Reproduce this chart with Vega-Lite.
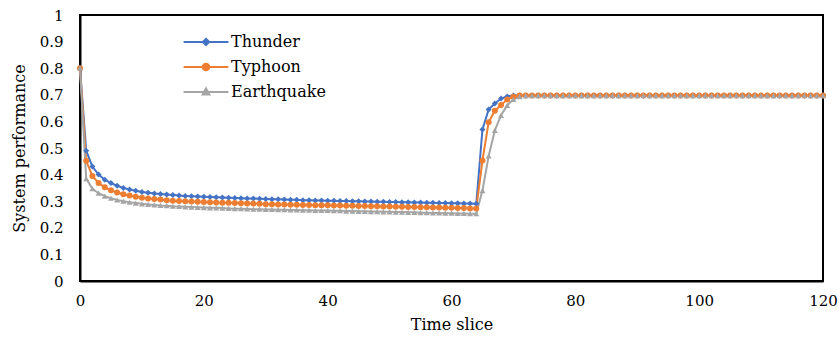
{
  "$schema": "https://vega.github.io/schema/vega-lite/v6.json",
  "autosize": "none",
  "width": 743,
  "height": 266,
  "padding": {"left": 80, "top": 15, "right": 16, "bottom": 68},
  "background": "white",
  "config": {
    "view": {"stroke": "black", "strokeWidth": 2},
    "font": "DejaVu Serif",
    "axis": {"labelFont": "DejaVu Serif", "titleFont": "DejaVu Serif", "labelColor": "black", "titleColor": "black", "labelFontSize": 15, "titleFontSize": 16, "titleFontWeight": "normal", "domainColor": "black", "domainWidth": 2, "tickColor": "black", "grid": false, "labelFlush": false}
  },
  "data": {"values": [
    {"t":0,"Thunder":0.8,"Typhoon":0.8,"Earthquake":0.8},
    {"t":1,"Thunder":0.49,"Typhoon":0.452,"Earthquake":0.385},
    {"t":2,"Thunder":0.43,"Typhoon":0.395,"Earthquake":0.347},
    {"t":3,"Thunder":0.4,"Typhoon":0.368,"Earthquake":0.33},
    {"t":4,"Thunder":0.381,"Typhoon":0.352,"Earthquake":0.319},
    {"t":5,"Thunder":0.368,"Typhoon":0.341,"Earthquake":0.311},
    {"t":6,"Thunder":0.358,"Typhoon":0.333,"Earthquake":0.305},
    {"t":7,"Thunder":0.35,"Typhoon":0.326,"Earthquake":0.3},
    {"t":8,"Thunder":0.344,"Typhoon":0.321,"Earthquake":0.296},
    {"t":9,"Thunder":0.339,"Typhoon":0.317,"Earthquake":0.293},
    {"t":10,"Thunder":0.335,"Typhoon":0.313,"Earthquake":0.29},
    {"t":11,"Thunder":0.332,"Typhoon":0.31,"Earthquake":0.288},
    {"t":12,"Thunder":0.329,"Typhoon":0.308,"Earthquake":0.286},
    {"t":13,"Thunder":0.327,"Typhoon":0.306,"Earthquake":0.284},
    {"t":14,"Thunder":0.325,"Typhoon":0.304,"Earthquake":0.283},
    {"t":15,"Thunder":0.323,"Typhoon":0.302,"Earthquake":0.281},
    {"t":16,"Thunder":0.321,"Typhoon":0.301,"Earthquake":0.28},
    {"t":17,"Thunder":0.32,"Typhoon":0.3,"Earthquake":0.279},
    {"t":18,"Thunder":0.319,"Typhoon":0.299,"Earthquake":0.278},
    {"t":19,"Thunder":0.318,"Typhoon":0.298,"Earthquake":0.277},
    {"t":20,"Thunder":0.317,"Typhoon":0.297,"Earthquake":0.276},
    {"t":21,"Thunder":0.316,"Typhoon":0.296,"Earthquake":0.275},
    {"t":22,"Thunder":0.315,"Typhoon":0.295,"Earthquake":0.275},
    {"t":23,"Thunder":0.314,"Typhoon":0.294,"Earthquake":0.274},
    {"t":24,"Thunder":0.313,"Typhoon":0.294,"Earthquake":0.273},
    {"t":25,"Thunder":0.312,"Typhoon":0.293,"Earthquake":0.272},
    {"t":26,"Thunder":0.311,"Typhoon":0.292,"Earthquake":0.272},
    {"t":27,"Thunder":0.31,"Typhoon":0.291,"Earthquake":0.271},
    {"t":28,"Thunder":0.31,"Typhoon":0.291,"Earthquake":0.27},
    {"t":29,"Thunder":0.309,"Typhoon":0.29,"Earthquake":0.27},
    {"t":30,"Thunder":0.308,"Typhoon":0.289,"Earthquake":0.269},
    {"t":31,"Thunder":0.307,"Typhoon":0.289,"Earthquake":0.269},
    {"t":32,"Thunder":0.307,"Typhoon":0.288,"Earthquake":0.268},
    {"t":33,"Thunder":0.306,"Typhoon":0.288,"Earthquake":0.268},
    {"t":34,"Thunder":0.305,"Typhoon":0.287,"Earthquake":0.267},
    {"t":35,"Thunder":0.305,"Typhoon":0.287,"Earthquake":0.267},
    {"t":36,"Thunder":0.304,"Typhoon":0.286,"Earthquake":0.266},
    {"t":37,"Thunder":0.304,"Typhoon":0.286,"Earthquake":0.266},
    {"t":38,"Thunder":0.303,"Typhoon":0.285,"Earthquake":0.265},
    {"t":39,"Thunder":0.303,"Typhoon":0.285,"Earthquake":0.265},
    {"t":40,"Thunder":0.302,"Typhoon":0.285,"Earthquake":0.265},
    {"t":41,"Thunder":0.302,"Typhoon":0.284,"Earthquake":0.264},
    {"t":42,"Thunder":0.301,"Typhoon":0.284,"Earthquake":0.264},
    {"t":43,"Thunder":0.301,"Typhoon":0.283,"Earthquake":0.263},
    {"t":44,"Thunder":0.3,"Typhoon":0.283,"Earthquake":0.263},
    {"t":45,"Thunder":0.3,"Typhoon":0.282,"Earthquake":0.262},
    {"t":46,"Thunder":0.299,"Typhoon":0.282,"Earthquake":0.262},
    {"t":47,"Thunder":0.299,"Typhoon":0.281,"Earthquake":0.261},
    {"t":48,"Thunder":0.298,"Typhoon":0.281,"Earthquake":0.261},
    {"t":49,"Thunder":0.298,"Typhoon":0.28,"Earthquake":0.26},
    {"t":50,"Thunder":0.297,"Typhoon":0.28,"Earthquake":0.26},
    {"t":51,"Thunder":0.297,"Typhoon":0.279,"Earthquake":0.259},
    {"t":52,"Thunder":0.296,"Typhoon":0.279,"Earthquake":0.259},
    {"t":53,"Thunder":0.296,"Typhoon":0.278,"Earthquake":0.258},
    {"t":54,"Thunder":0.295,"Typhoon":0.278,"Earthquake":0.258},
    {"t":55,"Thunder":0.295,"Typhoon":0.277,"Earthquake":0.257},
    {"t":56,"Thunder":0.294,"Typhoon":0.277,"Earthquake":0.257},
    {"t":57,"Thunder":0.294,"Typhoon":0.276,"Earthquake":0.256},
    {"t":58,"Thunder":0.293,"Typhoon":0.276,"Earthquake":0.256},
    {"t":59,"Thunder":0.293,"Typhoon":0.275,"Earthquake":0.255},
    {"t":60,"Thunder":0.292,"Typhoon":0.275,"Earthquake":0.255},
    {"t":61,"Thunder":0.292,"Typhoon":0.274,"Earthquake":0.254},
    {"t":62,"Thunder":0.291,"Typhoon":0.274,"Earthquake":0.254},
    {"t":63,"Thunder":0.291,"Typhoon":0.273,"Earthquake":0.253},
    {"t":64,"Thunder":0.29,"Typhoon":0.273,"Earthquake":0.253},
    {"t":65,"Thunder":0.57,"Typhoon":0.453,"Earthquake":0.34},
    {"t":66,"Thunder":0.645,"Typhoon":0.597,"Earthquake":0.47},
    {"t":67,"Thunder":0.667,"Typhoon":0.64,"Earthquake":0.566},
    {"t":68,"Thunder":0.686,"Typhoon":0.662,"Earthquake":0.623},
    {"t":69,"Thunder":0.694,"Typhoon":0.682,"Earthquake":0.66},
    {"t":70,"Thunder":0.697,"Typhoon":0.693,"Earthquake":0.683},
    {"t":71,"Thunder":0.697,"Typhoon":0.697,"Earthquake":0.693},
    {"t":72,"Thunder":0.697,"Typhoon":0.697,"Earthquake":0.697},
    {"t":73,"Thunder":0.697,"Typhoon":0.697,"Earthquake":0.697},
    {"t":74,"Thunder":0.697,"Typhoon":0.697,"Earthquake":0.697},
    {"t":75,"Thunder":0.697,"Typhoon":0.697,"Earthquake":0.697},
    {"t":76,"Thunder":0.697,"Typhoon":0.697,"Earthquake":0.697},
    {"t":77,"Thunder":0.697,"Typhoon":0.697,"Earthquake":0.697},
    {"t":78,"Thunder":0.697,"Typhoon":0.697,"Earthquake":0.697},
    {"t":79,"Thunder":0.697,"Typhoon":0.697,"Earthquake":0.697},
    {"t":80,"Thunder":0.697,"Typhoon":0.697,"Earthquake":0.697},
    {"t":81,"Thunder":0.697,"Typhoon":0.697,"Earthquake":0.697},
    {"t":82,"Thunder":0.697,"Typhoon":0.697,"Earthquake":0.697},
    {"t":83,"Thunder":0.697,"Typhoon":0.697,"Earthquake":0.697},
    {"t":84,"Thunder":0.697,"Typhoon":0.697,"Earthquake":0.697},
    {"t":85,"Thunder":0.697,"Typhoon":0.697,"Earthquake":0.697},
    {"t":86,"Thunder":0.697,"Typhoon":0.697,"Earthquake":0.697},
    {"t":87,"Thunder":0.697,"Typhoon":0.697,"Earthquake":0.697},
    {"t":88,"Thunder":0.697,"Typhoon":0.697,"Earthquake":0.697},
    {"t":89,"Thunder":0.697,"Typhoon":0.697,"Earthquake":0.697},
    {"t":90,"Thunder":0.697,"Typhoon":0.697,"Earthquake":0.697},
    {"t":91,"Thunder":0.697,"Typhoon":0.697,"Earthquake":0.697},
    {"t":92,"Thunder":0.697,"Typhoon":0.697,"Earthquake":0.697},
    {"t":93,"Thunder":0.697,"Typhoon":0.697,"Earthquake":0.697},
    {"t":94,"Thunder":0.697,"Typhoon":0.697,"Earthquake":0.697},
    {"t":95,"Thunder":0.697,"Typhoon":0.697,"Earthquake":0.697},
    {"t":96,"Thunder":0.697,"Typhoon":0.697,"Earthquake":0.697},
    {"t":97,"Thunder":0.697,"Typhoon":0.697,"Earthquake":0.697},
    {"t":98,"Thunder":0.697,"Typhoon":0.697,"Earthquake":0.697},
    {"t":99,"Thunder":0.697,"Typhoon":0.697,"Earthquake":0.697},
    {"t":100,"Thunder":0.697,"Typhoon":0.697,"Earthquake":0.697},
    {"t":101,"Thunder":0.697,"Typhoon":0.697,"Earthquake":0.697},
    {"t":102,"Thunder":0.697,"Typhoon":0.697,"Earthquake":0.697},
    {"t":103,"Thunder":0.697,"Typhoon":0.697,"Earthquake":0.697},
    {"t":104,"Thunder":0.697,"Typhoon":0.697,"Earthquake":0.697},
    {"t":105,"Thunder":0.697,"Typhoon":0.697,"Earthquake":0.697},
    {"t":106,"Thunder":0.697,"Typhoon":0.697,"Earthquake":0.697},
    {"t":107,"Thunder":0.697,"Typhoon":0.697,"Earthquake":0.697},
    {"t":108,"Thunder":0.697,"Typhoon":0.697,"Earthquake":0.697},
    {"t":109,"Thunder":0.697,"Typhoon":0.697,"Earthquake":0.697},
    {"t":110,"Thunder":0.697,"Typhoon":0.697,"Earthquake":0.697},
    {"t":111,"Thunder":0.697,"Typhoon":0.697,"Earthquake":0.697},
    {"t":112,"Thunder":0.697,"Typhoon":0.697,"Earthquake":0.697},
    {"t":113,"Thunder":0.697,"Typhoon":0.697,"Earthquake":0.697},
    {"t":114,"Thunder":0.697,"Typhoon":0.697,"Earthquake":0.697},
    {"t":115,"Thunder":0.697,"Typhoon":0.697,"Earthquake":0.697},
    {"t":116,"Thunder":0.697,"Typhoon":0.697,"Earthquake":0.697},
    {"t":117,"Thunder":0.697,"Typhoon":0.697,"Earthquake":0.697},
    {"t":118,"Thunder":0.697,"Typhoon":0.697,"Earthquake":0.697},
    {"t":119,"Thunder":0.697,"Typhoon":0.697,"Earthquake":0.697},
    {"t":120,"Thunder":0.697,"Typhoon":0.697,"Earthquake":0.697}
  ]},
  "transform": [{"fold": ["Thunder", "Typhoon", "Earthquake"], "as": ["series", "value"]}],
  "encoding": {
    "x": {"field": "t", "type": "quantitative", "title": "Time slice",
      "scale": {"domain": [0, 120], "nice": false, "zero": false},
      "axis": {"values": [0, 20, 40, 60, 80, 100, 120], "ticks": false, "labelPadding": 12, "titlePadding": 8, "labelFlush": false}},
    "y": {"field": "value", "type": "quantitative", "title": "System performance",
      "scale": {"domain": [0, 1], "nice": false},
      "axis": {"values": [0, 0.1, 0.2, 0.3, 0.4, 0.5, 0.6, 0.7, 0.8, 0.9, 1], "format": "~g", "ticks": false, "labelPadding": 17, "titlePadding": 12, "labelFlush": false}}
  },
  "layer": [
    {
      "mark": {"type": "line", "strokeWidth": 2},
      "encoding": {
        "color": {"field": "series", "type": "nominal",
          "scale": {"domain": ["Thunder", "Typhoon", "Earthquake"], "range": ["#4472C4", "#ED7D31", "#A5A5A5"]},
          "legend": {
            "title": null, "orient": "none", "legendX": 117, "legendY": 18, "padding": 0,
            "symbolSize": 256, "rowPadding": 8, "labelOffset": 16,
            "labelFont": "DejaVu Serif", "labelFontSize": 16, "labelColor": "black",
            "symbolStrokeWidth": 2,
            "encode": {"symbols": {"update": {
              "shape": {"signal": "datum.value === 'Thunder' ? 'M-2.8,0H2.8M0,-0.4L0.4,0L0,0.4L-0.4,0Z' : datum.value === 'Typhoon' ? 'M-2.8,0H2.8M0.42,0A0.42,0.42,0,1,1,-0.42,0A0.42,0.42,0,1,1,0.42,0Z' : 'M-2.8,0H2.8M0,-0.45L0.42,0.3L-0.42,0.3Z'"},
              "fill": {"signal": "scale('color', datum.value)"},
              "stroke": {"signal": "scale('color', datum.value)"},
              "strokeWidth": {"value": 2},
              "opacity": {"value": 1}
            }}}
          }}
      }
    },
    {
      "transform": [{"filter": "datum.series === 'Thunder'"}],
      "mark": {"type": "point", "filled": true, "size": 36, "opacity": 1, "shape": "diamond", "color": "#4472C4"}
    },
    {
      "transform": [{"filter": "datum.series === 'Typhoon'"}],
      "mark": {"type": "point", "filled": true, "size": 36, "opacity": 1, "shape": "circle", "color": "#ED7D31"}
    },
    {
      "transform": [{"filter": "datum.series === 'Earthquake'"}],
      "mark": {"type": "point", "filled": true, "size": 36, "opacity": 1, "shape": "triangle-up", "color": "#A5A5A5"}
    }
  ]
}
